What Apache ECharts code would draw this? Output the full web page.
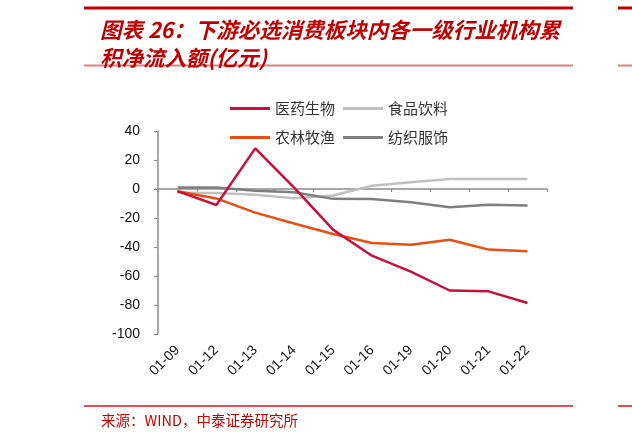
<!DOCTYPE html>
<html>
<head>
<meta charset="utf-8">
<script src="https://cdn.jsdelivr.net/npm/echarts@6/dist/echarts.min.js"></script>
<style>
html,body{margin:0;padding:0;background:#fff;}
#chart{width:632px;height:436px;}
</style>
</head>
<body>
<div id="chart"></div>
<script>
var categories = ['01-09','01-12','01-13','01-14','01-15','01-16','01-19','01-20','01-21','01-22'];
var yiyaoShengwu = [-1.5, -11, 28, 1, -28, -46, -57, -70, -70.6, -78.6];
var shipinYinliao = [-2.5, -2.8, -4, -6.3, -4.5, 2.3, 4.6, 6.9, 6.9, 6.9];
var nonglinMuyu = [-1.5, -6.5, -16.3, -23.8, -31, -37.2, -38.4, -35, -41.8, -43];
var fangzhiFushi = [1, 1, -1.2, -2.2, -6.8, -6.9, -9.2, -12.6, -10.8, -11.3];
var yTicks = {min: -100, max: 40, interval: 20};

var cjk = "'Noto Sans CJK SC', sans-serif";
var latin = "'Liberation Sans', Arial, sans-serif";
var axisColor = '#8C8C8C';

var chart = echarts.init(document.getElementById('chart'), null, {renderer: 'canvas'});
chart.setOption({
  backgroundColor: '#fff',
  animation: false,
  title: [{
    text: '图表 26：下游必选消费板块内各一级行业机构累\n积净流入额(亿元)',
    left: 95, top: 11,
    textStyle: {fontFamily: cjk, fontSize: 21.5, fontWeight: 'bold', fontStyle: 'italic', color: '#C00000', lineHeight: 28}
  }, {
    text: '来源：WIND，中泰证券研究所',
    left: 96, top: 408,
    textStyle: {fontFamily: cjk, fontSize: 14.5, fontWeight: 'normal', color: '#CC0000'}
  }],
  graphic: [
    {type: 'line', shape: {x1: 84, y1: 8, x2: 573, y2: 8}, style: {stroke: '#C00000', lineWidth: 3}},
    {type: 'line', shape: {x1: 84, y1: 65.5, x2: 573, y2: 65.5}, style: {stroke: '#E08080', lineWidth: 2}},
    {type: 'line', shape: {x1: 84, y1: 406, x2: 573, y2: 406}, style: {stroke: '#E05050', lineWidth: 2}},
    {type: 'line', shape: {x1: 618, y1: 8, x2: 632, y2: 8}, style: {stroke: '#C00000', lineWidth: 3}},
    {type: 'line', shape: {x1: 618, y1: 65.5, x2: 632, y2: 65.5}, style: {stroke: '#E08080', lineWidth: 2}},
    {type: 'line', shape: {x1: 618, y1: 406, x2: 632, y2: 406}, style: {stroke: '#E05050', lineWidth: 2}}
  ],
  legend: [{
    data: ['医药生物', '食品饮料'],
    left: 225, top: 96,
    icon: 'rect', itemWidth: 40, itemHeight: 3, itemGap: 8,
    textStyle: {fontFamily: cjk, fontSize: 15, color: '#333'}
  }, {
    data: ['农林牧渔', '纺织服饰'],
    left: 225, top: 125,
    icon: 'rect', itemWidth: 40, itemHeight: 3, itemGap: 8,
    textStyle: {fontFamily: cjk, fontSize: 15, color: '#333'}
  }],
  grid: {left: 158, right: 85, top: 131, bottom: 102, containLabel: false},
  xAxis: [{
    type: 'category', data: categories, position: 'bottom', boundaryGap: true,
    axisLine: {show: false, onZero: false},
    axisTick: {show: false},
    axisLabel: {rotate: 45, margin: 14, fontFamily: latin, fontSize: 14, color: '#111', interval: 0}
  }, {
    type: 'category', data: categories, position: 'bottom', boundaryGap: true,
    axisLine: {show: true, onZero: true, lineStyle: {color: axisColor, width: 1.5}},
    axisTick: {show: true, length: 3, interval: 0, lineStyle: {color: axisColor, width: 1.2}},
    axisLabel: {show: false}
  }],
  yAxis: {
    type: 'value', min: yTicks.min, max: yTicks.max, interval: yTicks.interval,
    axisLine: {show: true, lineStyle: {color: axisColor, width: 1.5}},
    axisTick: {show: true, length: 4, lineStyle: {color: axisColor, width: 1.2}},
    splitLine: {show: false},
    axisLabel: {margin: 18, fontFamily: latin, fontSize: 14, color: '#111'}
  },
  series: [
    {name: '医药生物', type: 'line', data: yiyaoShengwu, symbol: 'none', lineStyle: {width: 2.5, color: '#C8103C'}, itemStyle: {color: '#C8103C'}, z: 4},
    {name: '食品饮料', type: 'line', data: shipinYinliao, symbol: 'none', lineStyle: {width: 2.5, color: '#C0C0C0'}, itemStyle: {color: '#C0C0C0'}, z: 2},
    {name: '农林牧渔', type: 'line', data: nonglinMuyu, symbol: 'none', lineStyle: {width: 2.5, color: '#EA4E12'}, itemStyle: {color: '#EA4E12'}, z: 3},
    {name: '纺织服饰', type: 'line', data: fangzhiFushi, symbol: 'none', lineStyle: {width: 2.5, color: '#7F7F7F'}, itemStyle: {color: '#7F7F7F'}, z: 2}
  ]
});
</script>
</body>
</html>
